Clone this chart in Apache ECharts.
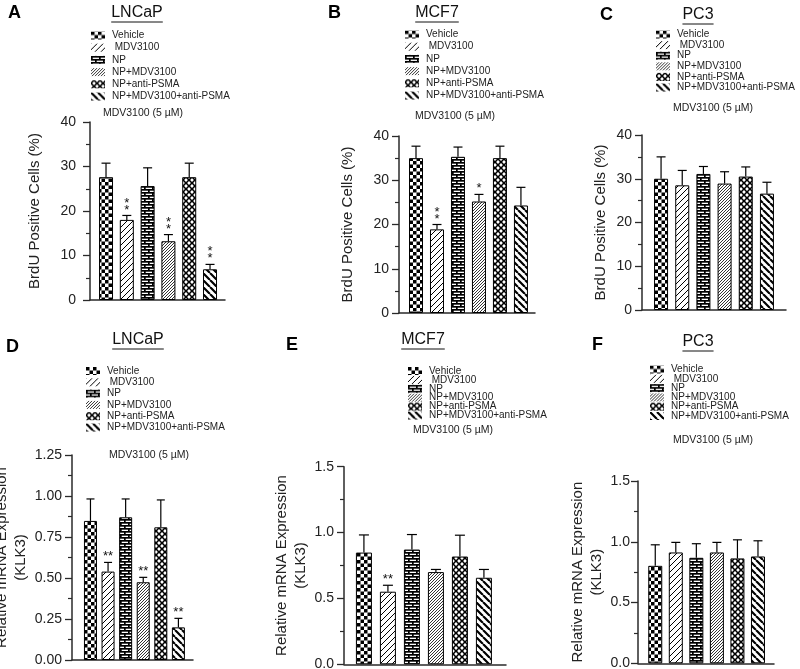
<!DOCTYPE html>
<html><head><meta charset="utf-8">
<script src="https://cdn.jsdelivr.net/npm/echarts@6/dist/echarts.min.js"></script>
<style>html,body{margin:0;padding:0;background:#fff}#c{width:800px;height:669px}</style>
</head><body><div id="c"></div>
<script>
// ---------- data ----------
const treatments = ['Vehicle', 'MDV3100', 'NP', 'NP+MDV3100', 'NP+anti-PSMA', 'NP+MDV3100+anti-PSMA'];
const brduTicks = [0, 10, 20, 30, 40];
const klkTicksD = [0, 0.25, 0.5, 0.75, 1.0, 1.25];
const klkTicksEF = [0, 0.5, 1.0, 1.5];

const brduLNCaP    = [27.6, 18.0, 25.6, 13.2, 27.6, 6.9];
const brduLNCaPSem = [3.15, 1.0, 4.1, 1.5, 3.15, 1.1];
const brduLNCaPSig = ['', '**', '', '**', '', '**'];

const brduMCF7    = [35.0, 18.9, 35.3, 25.2, 35.0, 24.3];
const brduMCF7Sem = [2.7, 1.1, 2.2, 1.6, 2.7, 4.1];
const brduMCF7Sig = ['', '**', '', '*', '', ''];

const brduPC3    = [30.0, 28.5, 31.1, 28.9, 30.5, 26.6];
const brduPC3Sem = [5.0, 3.4, 1.7, 2.7, 2.2, 2.6];
const brduPC3Sig = ['', '', '', '', '', ''];

const klkLNCaP    = [0.848, 0.539, 0.870, 0.474, 0.809, 0.199];
const klkLNCaPSem = [0.134, 0.056, 0.112, 0.030, 0.167, 0.055];
const klkLNCaPSig = ['', '**', '', '**', '', '**'];

const klkMCF7    = [0.848, 0.551, 0.871, 0.700, 0.818, 0.657];
const klkMCF7Sem = [0.134, 0.049, 0.114, 0.020, 0.162, 0.063];
const klkMCF7Sig = ['', '**', '', '', '', ''];

const klkPC3    = [0.802, 0.912, 0.868, 0.912, 0.863, 0.879];
const klkPC3Sem = [0.173, 0.083, 0.116, 0.083, 0.153, 0.129];
const klkPC3Sig = ['', '', '', '', '', ''];

const subtitleText = 'MDV3100 (5 µM)';

// ---------- patterns ----------
const FONT = '"Liberation Sans", Arial, Helvetica, sans-serif';
function tile(w, h, draw) {
  const c = document.createElement('canvas'); c.width = w; c.height = h;
  const g = c.getContext('2d'); draw(g, w, h);
  return { image: c, repeat: 'repeat' };
}
function diag(g, s, lw, dir) {
  g.strokeStyle = '#000'; g.lineWidth = lw; g.beginPath();
  for (let o = -s; o <= s; o += s) {
    if (dir > 0) { g.moveTo(o, s); g.lineTo(o + s, 0); }
    else { g.moveTo(o, 0); g.lineTo(o + s, s); }
  }
  g.stroke();
}
function diamond(g, cx, cy, r) {
  g.beginPath(); g.moveTo(cx, cy - r); g.lineTo(cx + r, cy); g.lineTo(cx, cy + r); g.lineTo(cx - r, cy); g.closePath(); g.fill();
}
const patterns = [
  tile(7, 7, (g) => { g.fillStyle = '#fff'; g.fillRect(0, 0, 7, 7); g.fillStyle = '#000'; g.fillRect(0, 0, 3.5, 3.5); g.fillRect(3.5, 3.5, 3.5, 3.5); }),
  tile(6, 6, (g) => { g.fillStyle = '#fff'; g.fillRect(0, 0, 6, 6); diag(g, 6, 1, 1); }),
  tile(8, 6, (g) => { g.fillStyle = '#fff'; g.fillRect(0, 0, 8, 6); g.fillStyle = '#000';
    g.fillRect(0, 0, 8, 1.7); g.fillRect(0, 3, 8, 1.7); g.fillRect(0, 0, 1.7, 3); g.fillRect(4, 3, 1.7, 3); }),
  tile(3, 3, (g) => { g.fillStyle = '#fff'; g.fillRect(0, 0, 3, 3); diag(g, 3, 0.8, 1); }),
  tile(6, 6, (g) => { g.fillStyle = '#000'; g.fillRect(0, 0, 6, 6); g.fillStyle = '#fff';
    diamond(g, 3, 3, 1.9); diamond(g, 0, 0, 1.9); diamond(g, 6, 0, 1.9); diamond(g, 0, 6, 1.9); diamond(g, 6, 6, 1.9); }),
  tile(7, 7, (g) => { g.fillStyle = '#fff'; g.fillRect(0, 0, 7, 7); diag(g, 7, 2.2, -1); })
];

// ---------- panel layout ----------
const panels = [
  { letter: 'A', title: 'LNCaP', vals: brduLNCaP, sem: brduLNCaPSem, sig: brduLNCaPSig, stacked: true, ticks: brduTicks, dec: 0,
    yname: 'BrdU Positive Cells (%)', grid: { left: 90, top: 122, width: 135, height: 178 }, xr: [-0.77, 5.72], bw: 14, cap: 9,
    nameGap: 46, margin: 14, lg: { left: 91, top: 30, sp: 12.2 }, lp: [8, 13], tp: [137, 13], sp: [143, 113] },
  { letter: 'B', title: 'MCF7', vals: brduMCF7, sem: brduMCF7Sem, sig: brduMCF7Sig, stacked: true, ticks: brduTicks, dec: 0,
    yname: 'BrdU Positive Cells (%)', grid: { left: 399, top: 136, width: 136, height: 177 }, xr: [-0.81, 5.67], bw: 14, cap: 9,
    nameGap: 42, margin: 10, lg: { left: 405, top: 29, sp: 12.2 }, lp: [328, 13], tp: [437, 13], sp: [455, 116] },
  { letter: 'C', title: 'PC3', vals: brduPC3, sem: brduPC3Sem, sig: brduPC3Sig, stacked: true, ticks: brduTicks, dec: 0,
    yname: 'BrdU Positive Cells (%)', grid: { left: 642, top: 135, width: 144, height: 175 }, xr: [-0.9, 5.9], bw: 14, cap: 9,
    nameGap: 32, margin: 10, lg: { left: 656, top: 29, sp: 10.6 }, lp: [600, 15], tp: [698, 15], sp: [713, 108] },
  { letter: 'D', title: 'LNCaP', vals: klkLNCaP, sem: klkLNCaPSem, sig: klkLNCaPSig, stacked: false, ticks: klkTicksD, dec: 2,
    yname: 'Relative mRNA Expression\n(KLK3)', grid: { left: 72, top: 455, width: 121, height: 205 }, xr: [-1.05, 5.83], bw: 13, cap: 8,
    nameGap: 39, margin: 10, lg: { left: 86, top: 365.5, sp: 11.3 }, lp: [6, 347], tp: [138, 340], sp: [149, 455] },
  { letter: 'E', title: 'MCF7', vals: klkMCF7, sem: klkMCF7Sem, sig: klkMCF7Sig, stacked: false, ticks: klkTicksEF, dec: 1,
    yname: 'Relative mRNA Expression\n(KLK3)', grid: { left: 344, top: 466.7, width: 162, height: 197.6 }, xr: [-0.83, 5.92], bw: 16, cap: 10,
    nameGap: 32, margin: 10, lg: { left: 408, top: 365.5, sp: 8.9 }, lp: [286, 345], tp: [423, 340], sp: [453, 430] },
  { letter: 'F', title: 'PC3', vals: klkPC3, sem: klkPC3Sem, sig: klkPC3Sig, stacked: false, ticks: klkTicksEF, dec: 1,
    yname: 'Relative mRNA Expression\n(KLK3)', grid: { left: 638, top: 481, width: 136, height: 182.3 }, xr: [-0.84, 5.78], bw: 14, cap: 9,
    nameGap: 27, margin: 8, lg: { left: 650, top: 364, sp: 9.3 }, lp: [592, 345], tp: [698, 342], sp: [713, 440] }
];

const AX = '#2a2a2a';
const LEG_LH = 11;
const measure = (() => { const c = document.createElement('canvas').getContext('2d');
  return (txt, font) => { c.font = font; return c.measureText(txt).width; }; })();

const option = { animation: false, grid: [], xAxis: [], yAxis: [], series: [], legend: [], graphic: [] };

panels.forEach((p, i) => {
  option.grid.push(Object.assign({ containLabel: false, outerBoundsMode: 'none' }, p.grid));
  option.xAxis.push({ type: 'value', gridIndex: i, min: p.xr[0], max: p.xr[1],
    axisLine: { show: true, onZero: false, lineStyle: { color: AX, width: 1.5 } }, axisTick: { show: false },
    axisLabel: { show: false }, splitLine: { show: false } });
  const t = p.ticks;
  option.yAxis.push({ type: 'value', gridIndex: i, min: t[0], max: t[t.length - 1], interval: t[1] - t[0],
    name: p.yname, nameLocation: 'middle', nameGap: p.nameGap,
    nameTextStyle: { fontSize: 15, color: '#222', fontFamily: FONT, lineHeight: 19 },
    axisLine: { show: true, onZero: false, lineStyle: { color: AX, width: 1.5 } },
    axisTick: { show: true, length: 7, lineStyle: { color: AX, width: 1.3 } },
    minorTick: { show: true, splitNumber: 2, length: 4, lineStyle: { color: AX, width: 1.2 } },
    axisLabel: { fontSize: 14, color: '#222', fontFamily: FONT, margin: p.margin, formatter: v => v.toFixed(p.dec) },
    splitLine: { show: false } });
  treatments.forEach((name, k) => {
    option.series.push({ type: 'bar', name, xAxisIndex: i, yAxisIndex: i, barWidth: p.bw, barGap: '-100%',
      data: [[k, p.vals[k]]], silent: true,
      itemStyle: { color: patterns[k], borderColor: '#000', borderWidth: 1 } });
  });
  option.series.push({ type: 'custom', xAxisIndex: i, yAxisIndex: i, z: 10, silent: true,
    data: p.vals.map((v, k) => [k, v, p.sem[k]]), encode: { x: 0, y: 1 },
    renderItem: (params, api) => {
      const k = params.dataIndex;
      const x = api.value(0), v = api.value(1), e = api.value(2);
      const b = api.coord([x, v]), tp = api.coord([x, v + e]);
      const ch = [
        { type: 'line', shape: { x1: b[0], y1: b[1], x2: tp[0], y2: tp[1] }, style: { stroke: '#000', lineWidth: 1.2 } },
        { type: 'line', shape: { x1: tp[0] - p.cap / 2, y1: tp[1], x2: tp[0] + p.cap / 2, y2: tp[1] }, style: { stroke: '#000', lineWidth: 1.2 } }
      ];
      const s = p.sig[k];
      if (s) ch.push({ type: 'text', style: { text: p.stacked ? s.split('').join('\n') : s, x: tp[0], y: tp[1] - 2,
        align: 'center', verticalAlign: 'bottom', textAlign: 'center', textVerticalAlign: 'bottom',
        font: '13px ' + FONT, fill: '#111', lineHeight: 7 } });
      return { type: 'group', children: ch };
    } });
  option.legend.push({ orient: 'vertical', left: p.lg.left, top: p.lg.top, itemWidth: 14, itemHeight: 8,
    itemGap: p.lg.sp - LEG_LH, selectedMode: false, icon: 'rect', data: treatments, padding: 0,
    formatter: n => n === 'MDV3100' ? ' MDV3100' : n,
    itemStyle: { borderWidth: 0 },
    textStyle: { fontSize: 10, color: '#222', fontFamily: FONT, lineHeight: LEG_LH, padding: [0, 0, 0, 2] } });
  option.graphic.push({ type: 'text', left: p.lp[0], top: p.lp[1] - 9, silent: true,
    style: { text: p.letter, font: 'bold 18px ' + FONT, fill: '#000' } });
  const tf = '16px ' + FONT;
  const tw = measure(p.title, tf);
  option.graphic.push({ type: 'text', x: p.tp[0], y: p.tp[1], silent: true,
    style: { text: p.title, font: tf, fill: '#111', textAlign: 'center', textVerticalAlign: 'middle', align: 'center', verticalAlign: 'middle' } });
  option.graphic.push({ type: 'line', silent: true,
    shape: { x1: p.tp[0] - tw / 2, y1: p.tp[1] + 9, x2: p.tp[0] + tw / 2, y2: p.tp[1] + 9 },
    style: { stroke: '#111', lineWidth: 1 } });
  option.graphic.push({ type: 'text', x: p.sp[0], y: p.sp[1], silent: true,
    style: { text: subtitleText, font: '10.5px ' + FONT, fill: '#222', textAlign: 'center', textVerticalAlign: 'middle', align: 'center', verticalAlign: 'middle' } });
});

const chart = echarts.init(document.getElementById('c'), null, { renderer: 'canvas' });
chart.setOption(option);
</script>
</body></html>
